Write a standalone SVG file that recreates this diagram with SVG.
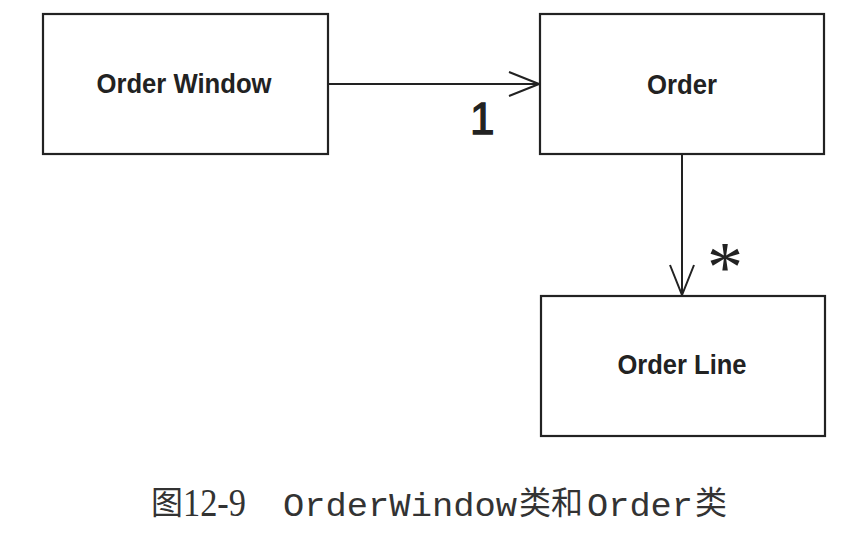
<svg xmlns="http://www.w3.org/2000/svg" width="854" height="541" viewBox="0 0 854 541">
<style>
.box{fill:#fff;stroke:#222;stroke-width:2.2}
.lbl{font-family:"Liberation Sans",Arial,sans-serif;font-weight:bold;font-size:28px;fill:#222;text-anchor:middle}
.conn{stroke:#222;stroke-width:2;fill:none}
.one{font-family:"Liberation Sans",Arial,sans-serif;font-size:44px;fill:#222;stroke:#222;stroke-width:1.3}
.star{font-family:"Liberation Serif","Times New Roman",serif;font-size:72px;fill:#222;text-anchor:middle}
.cap{fill:#333}
.cjk{font-family:"Noto Sans CJK SC",sans-serif;font-size:32px}
.mono{font-family:"Liberation Mono",monospace;font-size:34px}
</style>
<defs>
<marker id="open" viewBox="0 0 32 26" refX="31" refY="13" markerWidth="32" markerHeight="26" markerUnits="userSpaceOnUse" orient="auto">
<path d="M1,1 L31,13 L1,25" fill="none" stroke="#222" stroke-width="2"/>
</marker>
</defs>
<rect width="854" height="541" fill="#fff"/>
<g id="node-order-window">
<rect class="box" x="43" y="14" width="285" height="140"/>
<text class="lbl" x="184" y="93" textLength="175" lengthAdjust="spacingAndGlyphs">Order Window</text>
</g>
<g id="node-order">
<rect class="box" x="540" y="14" width="284" height="140"/>
<text class="lbl" x="682" y="94" textLength="70" lengthAdjust="spacingAndGlyphs">Order</text>
</g>
<g id="node-order-line">
<rect class="box" x="541" y="296" width="284" height="140"/>
<text class="lbl" x="682" y="374" textLength="129" lengthAdjust="spacingAndGlyphs">Order Line</text>
</g>
<g id="connectors">
<line class="conn" x1="328" y1="84" x2="539" y2="84" marker-end="url(#open)"/>
<line class="conn" x1="682" y1="154" x2="682" y2="295" marker-end="url(#open)"/>
<text class="one" x="470" y="134">1</text>
<text class="star" x="725" y="291">*</text>
</g>
<g id="caption">
<text class="cap cjk" x="151" y="514">图</text>
<text class="cap" x="183" y="516" font-family="'Liberation Serif',serif" font-size="40" textLength="63" lengthAdjust="spacingAndGlyphs">12-9</text>
<text class="cap mono" x="283" y="516" textLength="234" lengthAdjust="spacingAndGlyphs">OrderWindow</text>
<text class="cap cjk" x="519" y="514">类和</text>
<text class="cap mono" x="587" y="516" textLength="106" lengthAdjust="spacingAndGlyphs">Order</text>
<text class="cap cjk" x="695" y="514">类</text>
</g>
</svg>
